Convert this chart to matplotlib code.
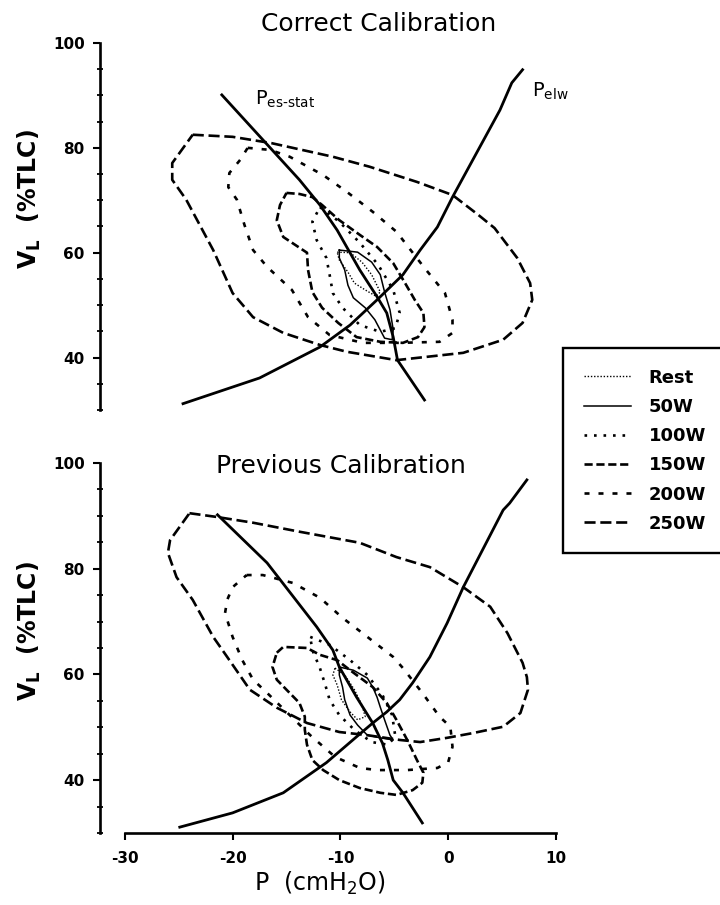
import matplotlib.pyplot as plt
from matplotlib.ticker import MultipleLocator

plt.rcParams['font.family'] = ['DejaVu Sans']
plt.rcParams['mathtext.fontset'] = 'dejavusans'
plt.rcParams['axes.unicode_minus'] = False

# ---------------- data: P (cmH2O) vs VL (%TLC) ---------------- #
loads = ["Rest", "50W", "100W", "150W", "200W", "250W"]

# Correct calibration (top panel)
top_rest_p = [-10.3, -9.1, -8.0, -7.1, -6.3, -6.7, -7.7, -8.7, -9.3, -10.1]
top_rest_v = [60.1, 60.0, 58.2, 55.8, 52.5, 51.7, 52.9, 54.2, 56.3, 58.6]
top_50_p = [-10.1, -8.4, -7.1, -6.3, -5.9, -5.4, -5.1, -5.2, -5.9, -6.8, -7.7, -8.8, -9.3, -9.6, -10.1]
top_50_v = [60.5, 60.1, 58.2, 55.8, 52.5, 49.1, 45.3, 43.4, 43.7, 47.2, 49.5, 51.4, 53.8, 56.7, 59.0]
top_100_p = [-11.9, -10.1, -8.2, -6.5, -5.1, -4.5, -4.9, -6.3, -8.2, -9.8, -10.7, -11.0, -11.3, -12.2, -12.6]
top_100_v = [68.7, 65.9, 61.9, 57.7, 52.9, 48.5, 45.6, 44.9, 46.2, 49.5, 52.3, 55.8, 59.0, 62.4, 65.9]
top_150_p = [-15.0, -13.8, -12.6, -11.7, -10.1, -8.2, -6.6, -5.1, -4.0, -3.1, -2.3, -2.2, -2.8,
             -4.2, -6.3, -8.5, -10.2, -11.7, -12.6, -13.0, -13.1, -14.2, -15.3, -15.9, -15.6]
top_150_v = [71.4, 71.2, 70.6, 69.1, 66.2, 63.4, 61.1, 58.0, 54.2, 51.0, 48.5, 45.8, 43.9,
             42.8, 43.0, 43.9, 46.6, 49.5, 52.5, 56.7, 60.0, 61.5, 63.0, 66.2, 69.1]
top_200_p = [-18.6, -16.5, -14.7, -11.6, -9.4, -7.0, -4.8, -2.2, -0.3, 0.4, 0.4, -0.8,
             -4.5, -7.9, -11.0, -13.0, -14.5, -16.8, -18.1, -18.9, -19.6, -20.4, -20.3, -19.3]
top_200_v = [80.0, 79.6, 78.3, 74.8, 71.6, 67.8, 64.0, 57.1, 52.3, 47.2, 44.7, 43.0,
             42.8, 42.8, 44.3, 47.7, 52.9, 57.3, 60.5, 65.3, 70.1, 72.5, 75.2, 77.7]
top_250_p = [-23.7, -20.0, -16.4, -10.7, -7.3, -2.9, 0.4, 2.8, 4.3, 6.4, 7.6, 7.8, 6.9,
             5.1, 1.4, -4.8, -9.4, -11.9, -15.3, -18.1, -20.0, -21.8, -24.3, -25.6, -25.6]
top_250_v = [82.5, 82.1, 80.9, 78.3, 76.4, 73.5, 71.0, 67.2, 64.7, 59.0, 54.2, 51.0, 46.6,
             43.4, 40.9, 39.5, 41.1, 42.4, 44.7, 47.7, 52.3, 60.5, 70.1, 73.9, 77.1]
top_es_p = [-21.0, -13.8, -11.9, -10.3, -8.2, -6.6, -5.7, -5.1, -4.7, -2.2]
top_es_v = [90.1, 73.9, 69.1, 64.3, 56.7, 51.6, 48.5, 43.9, 39.5, 31.9]
top_elw_p = [-24.6, -17.5, -11.9, -9.1, -6.6, -4.2, -2.6, -1.0, 0.4, 4.8, 5.9, 6.9]
top_elw_v = [31.2, 36.1, 42.0, 46.2, 51.0, 55.8, 60.5, 64.9, 70.6, 87.2, 92.4, 94.9]

# Previous calibration (bottom panel)
bot_rest_p = [-10.5, -9.6, -8.7, -8.0, -7.7, -8.4, -9.1, -9.9, -10.3, -10.7]
bot_rest_v = [61.2, 59.9, 57.1, 54.2, 52.0, 51.4, 52.9, 55.2, 58.0, 59.9]
bot_50_p = [-10.1, -8.8, -7.5, -7.0, -6.6, -6.3, -5.9, -5.4, -5.1, -6.3, -7.5, -8.4, -9.1, -9.6, -9.8, -10.1]
bot_50_v = [61.4, 60.8, 59.3, 57.6, 55.7, 53.8, 51.4, 48.5, 47.6, 48.0, 48.5, 50.4, 52.3, 55.2, 57.6, 59.9]
bot_100_p = [-12.8, -11.0, -9.1, -7.5, -6.1, -5.2, -4.9, -5.6, -7.1, -8.7, -10.1, -11.0, -11.4, -11.9, -12.6]
bot_100_v = [67.1, 65.6, 62.7, 59.9, 56.1, 52.3, 48.2, 46.7, 47.2, 49.5, 52.3, 55.2, 58.0, 61.2, 64.6]
bot_150_p = [-15.9, -15.3, -13.1, -11.9, -10.3, -9.1, -7.0, -5.7, -4.8, -3.8, -2.9, -2.3, -2.4, -3.3,
             -4.8, -6.3, -8.2, -10.1, -11.6, -12.6, -13.1, -13.3, -13.3, -13.8, -15.0, -15.9, -16.3]
bot_150_v = [64.1, 65.2, 65.0, 63.7, 62.7, 60.8, 57.6, 54.6, 51.4, 47.6, 43.8, 41.4, 39.5, 38.1,
             37.2, 37.6, 38.5, 40.0, 41.9, 43.8, 46.7, 49.5, 52.0, 54.6, 57.1, 59.0, 61.4]
bot_200_p = [-18.7, -17.2, -14.4, -11.9, -9.8, -7.5, -5.1, -4.2, -2.4, -0.8, 0.2, 0.4, 0.0, -1.0,
             -3.8, -6.6, -8.2, -10.5, -12.8, -15.0, -16.8, -18.1, -19.1, -20.0, -20.7, -20.5, -20.0]
bot_200_v = [78.8, 78.8, 77.3, 74.5, 70.7, 67.1, 63.3, 61.2, 56.5, 52.0, 50.1, 46.3, 43.4, 42.3,
             41.9, 41.9, 42.3, 44.4, 48.5, 52.9, 56.5, 59.0, 62.7, 67.1, 71.6, 74.1, 76.5]
bot_250_p = [-24.0, -21.5, -18.1, -13.8, -8.2, -4.8, -1.7, 1.4, 3.9, 5.5, 6.9, 7.3, 7.4, 6.7, 5.1,
             2.3, -0.1, -2.6, -4.5, -7.5, -10.1, -13.1, -15.9, -18.4, -20.5, -21.8, -23.7, -25.2, -26.0, -25.8]
bot_250_v = [90.5, 89.8, 88.7, 87.0, 84.9, 82.2, 80.3, 76.5, 72.8, 67.8, 62.2, 59.5, 57.1, 52.7, 50.1,
             48.9, 48.0, 47.2, 47.6, 48.5, 49.1, 50.8, 53.7, 57.1, 63.3, 67.1, 74.1, 78.4, 83.0, 85.4]
bot_es_p = [-21.4, -16.8, -12.2, -10.7, -10.1, -8.5, -7.0, -6.1, -5.6, -5.1, -4.2, -2.4]
bot_es_v = [90.2, 81.1, 69.0, 64.6, 61.4, 55.7, 50.8, 47.0, 43.8, 40.0, 37.6, 31.9]
bot_elw_p = [-24.9, -20.0, -15.3, -11.3, -8.5, -7.0, -5.7, -4.5, -3.3, -1.7, -0.1, 1.4, 5.1, 5.7, 7.3]
bot_elw_v = [31.1, 33.8, 37.6, 43.3, 48.2, 50.8, 52.9, 55.2, 58.4, 63.3, 69.7, 76.5, 91.1, 92.4, 96.8]

x_ticks = [-30, -20, -10, 0, 10]
y_ticks = [40, 60, 80, 100]

# ---------------------------------------------------------------- #

line_styles = {
    "Rest": dict(lw=1.0, ls=(0, (1.0, 1.3))),
    "50W": dict(lw=1.1, ls="-"),
    "100W": dict(lw=1.9, ls=(0, (1.0, 2.6))),
    "150W": dict(lw=1.9, ls=(0, (3.1, 1.4))),
    "200W": dict(lw=1.9, ls=(0, (1.9, 3.4))),
    "250W": dict(lw=1.9, ls=(0, (4.2, 1.8))),
}

top_loops = {
    "Rest": (top_rest_p, top_rest_v), "50W": (top_50_p, top_50_v),
    "100W": (top_100_p, top_100_v), "150W": (top_150_p, top_150_v),
    "200W": (top_200_p, top_200_v), "250W": (top_250_p, top_250_v),
}
bot_loops = {
    "Rest": (bot_rest_p, bot_rest_v), "50W": (bot_50_p, bot_50_v),
    "100W": (bot_100_p, bot_100_v), "150W": (bot_150_p, bot_150_v),
    "200W": (bot_200_p, bot_200_v), "250W": (bot_250_p, bot_250_v),
}


def closed(a):
    return list(a) + [a[0]]


def setup_axes(ax, show_x):
    ax.set_xlim(-32.3, 10)
    ax.set_ylim(30, 100)
    ax.spines["top"].set_visible(False)
    ax.spines["right"].set_visible(False)
    ax.spines["left"].set_bounds(30, 100)
    ax.spines["left"].set_linewidth(1.9)
    ax.set_yticks(y_ticks)
    ax.yaxis.set_minor_locator(MultipleLocator(5))
    ax.tick_params(axis="y", which="major", direction="out", length=5, width=1.5,
                   pad=6, labelsize=11)
    ax.tick_params(axis="y", which="minor", direction="inout", length=4, width=1.3)
    for lab in ax.get_yticklabels():
        lab.set_fontweight("bold")
    if show_x:
        ax.spines["bottom"].set_bounds(-30, 10)
        ax.spines["bottom"].set_linewidth(1.9)
        ax.set_xticks(x_ticks)
        ax.tick_params(axis="x", direction="out", length=5, width=1.5, pad=8, labelsize=11)
        for lab in ax.get_xticklabels():
            lab.set_fontweight("bold")
    else:
        ax.spines["bottom"].set_visible(False)
        ax.set_xticks([])
    ax.set_ylabel(r"V$_\mathregular{L}$  (%TLC)", fontsize=17, fontweight="bold")


fig = plt.figure(figsize=(7.2, 9.05), dpi=100)
ax_top = fig.add_axes([0.1389, 0.5470, 0.6333, 0.4055])
ax_bot = fig.add_axes([0.1389, 0.0796, 0.6333, 0.4088])

handles = []
for name in loads:
    p, v = top_loops[name]
    ln, = ax_top.plot(closed(p), closed(v), color="black", label=name, **line_styles[name])
    handles.append(ln)
    p, v = bot_loops[name]
    ax_bot.plot(closed(p), closed(v), color="black", **line_styles[name])

ax_top.plot(top_es_p, top_es_v, color="black", lw=2.0)
ax_top.plot(top_elw_p, top_elw_v, color="black", lw=2.0)
ax_bot.plot(bot_es_p, bot_es_v, color="black", lw=2.0)
ax_bot.plot(bot_elw_p, bot_elw_v, color="black", lw=2.0)

ax_top.text(-17.9, 89.2, r"P$_\mathregular{es\text{-}stat}$", fontsize=14, va="center")
ax_top.text(7.8, 90.8, r"P$_\mathregular{elw}$", fontsize=14, va="center")

setup_axes(ax_top, False)
setup_axes(ax_bot, True)
ax_top.yaxis.set_label_coords(-0.125, 0.575)
ax_bot.yaxis.set_label_coords(-0.125, 0.545)

ax_bot.set_xlabel(r"P  (cmH$_\mathregular{2}$O)", fontsize=17)
ax_bot.xaxis.set_label_coords(0.482, -0.1)

fig.text(0.526, 0.9657, "Correct Calibration", fontsize=18, ha="center", va="baseline")
fig.text(0.474, 0.4773, "Previous Calibration", fontsize=18, ha="center", va="baseline")

leg = fig.legend(handles=handles, loc="upper left", bbox_to_anchor=(563 / 720, 1 - 348 / 905),
                 bbox_transform=fig.transFigure, borderaxespad=0, fancybox=False,
                 framealpha=1, edgecolor="black", handlelength=2.6, handletextpad=1.0,
                 labelspacing=0.62, borderpad=1.15, prop={"size": 13, "weight": "bold"})
leg.get_frame().set_linewidth(1.7)

fig.savefig("out.png", dpi=100)
